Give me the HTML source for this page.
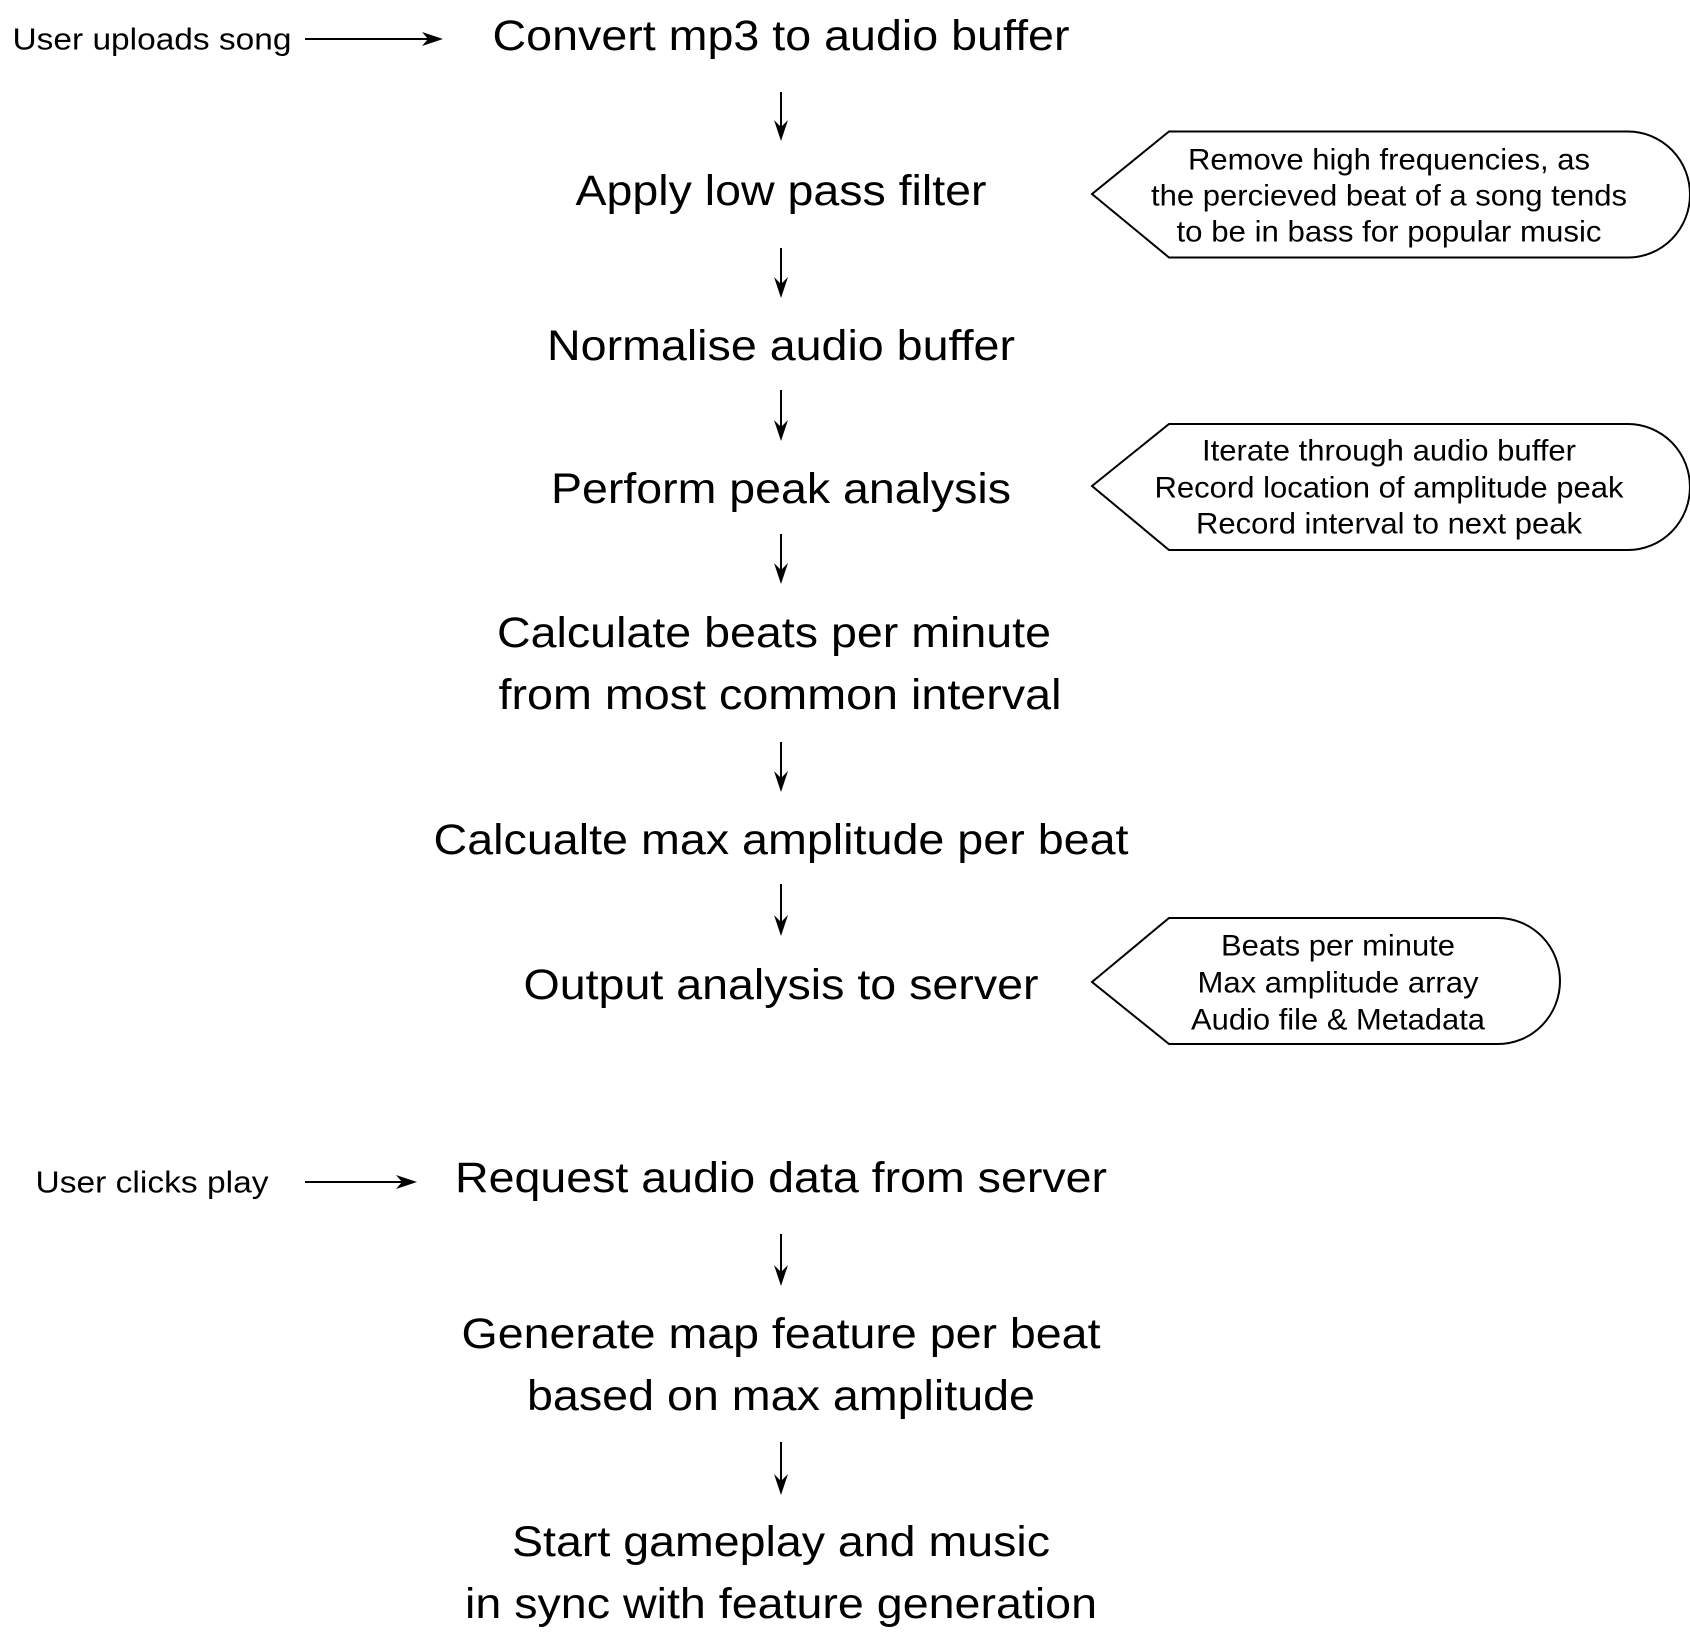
<!DOCTYPE html>
<html><head><meta charset="utf-8"><style>
html,body{margin:0;padding:0;background:#fff;}
svg{display:block;}
text{font-family:"Liberation Sans",Arial,sans-serif;fill:#000;}
.m{font-size:43px;text-anchor:middle;dominant-baseline:central;}
.s{font-size:29.5px;text-anchor:middle;dominant-baseline:central;}
.l{font-size:31px;text-anchor:middle;dominant-baseline:central;}
</style></head><body>
<svg width="1690" height="1636" viewBox="0 0 1690 1636" xmlns="http://www.w3.org/2000/svg">
<g stroke="#000" stroke-width="2" fill="none">
<line x1="781" y1="92" x2="781" y2="130"/>
<line x1="781" y1="248" x2="781" y2="287"/>
<line x1="781" y1="390" x2="781" y2="430"/>
<line x1="781" y1="534" x2="781" y2="573"/>
<line x1="781" y1="742" x2="781" y2="781"/>
<line x1="781" y1="884" x2="781" y2="925"/>
<line x1="781" y1="1234" x2="781" y2="1275"/>
<line x1="781" y1="1442" x2="781" y2="1484"/>
<line x1="305" y1="39" x2="432" y2="39"/>
<line x1="305" y1="1182" x2="406" y2="1182"/>
<path d="M1092,194 L1169,131.5 L1628,131.5 A62,63 0 0 1 1628,257.5 L1169,257.5 Z"/>
<path d="M1092,486 L1169,424 L1628,424 A62,63 0 0 1 1628,550 L1169,550 Z"/>
<path d="M1092,982 L1169,918 L1498,918 A62,63 0 0 1 1498,1044 L1169,1044 Z"/>
</g>
<g fill="#000">
<path d="M774,120 L781,141 L788,120 L781,127 Z"/>
<path d="M774,277 L781,298 L788,277 L781,284 Z"/>
<path d="M774,420 L781,441 L788,420 L781,427 Z"/>
<path d="M774,563 L781,584 L788,563 L781,570 Z"/>
<path d="M774,771 L781,792 L788,771 L781,778 Z"/>
<path d="M774,915 L781,936 L788,915 L781,922 Z"/>
<path d="M774,1265 L781,1286 L788,1265 L781,1272 Z"/>
<path d="M774,1474 L781,1495 L788,1474 L781,1481 Z"/>
<path d="M422,32 L443,39 L422,46 L428,39 Z"/>
<path d="M396,1175 L417,1182 L396,1189 L402,1182 Z"/>
</g>
<text class="l" x="152" y="39" textLength="279" lengthAdjust="spacingAndGlyphs">User uploads song</text>
<text class="l" x="152" y="1182" textLength="233" lengthAdjust="spacingAndGlyphs">User clicks play</text>
<text class="m" x="781" y="36" textLength="577" lengthAdjust="spacingAndGlyphs">Convert mp3 to audio buffer</text>
<text class="m" x="781" y="191" textLength="411" lengthAdjust="spacingAndGlyphs">Apply low pass filter</text>
<text class="m" x="781" y="346" textLength="468" lengthAdjust="spacingAndGlyphs">Normalise audio buffer</text>
<text class="m" x="781" y="489" textLength="460" lengthAdjust="spacingAndGlyphs">Perform peak analysis</text>
<text class="m" x="774" y="633" textLength="554" lengthAdjust="spacingAndGlyphs">Calculate beats per minute</text>
<text class="m" x="780" y="695" textLength="563" lengthAdjust="spacingAndGlyphs">from most common interval</text>
<text class="m" x="781" y="840" textLength="695" lengthAdjust="spacingAndGlyphs">Calcualte max amplitude per beat</text>
<text class="m" x="781" y="985" textLength="515" lengthAdjust="spacingAndGlyphs">Output analysis to server</text>
<text class="m" x="781" y="1178" textLength="652" lengthAdjust="spacingAndGlyphs">Request audio data from server</text>
<text class="m" x="781" y="1334" textLength="639" lengthAdjust="spacingAndGlyphs">Generate map feature per beat</text>
<text class="m" x="781" y="1396" textLength="508" lengthAdjust="spacingAndGlyphs">based on max amplitude</text>
<text class="m" x="781" y="1542" textLength="538" lengthAdjust="spacingAndGlyphs">Start gameplay and music</text>
<text class="m" x="781" y="1604" textLength="632" lengthAdjust="spacingAndGlyphs">in sync with feature generation</text>
<text class="s" x="1389" y="160" textLength="402" lengthAdjust="spacingAndGlyphs">Remove high frequencies, as</text>
<text class="s" x="1389" y="196" textLength="476" lengthAdjust="spacingAndGlyphs">the percieved beat of a song tends</text>
<text class="s" x="1389" y="232" textLength="425" lengthAdjust="spacingAndGlyphs">to be in bass for popular music</text>
<text class="s" x="1389" y="451" textLength="374" lengthAdjust="spacingAndGlyphs">Iterate through audio buffer</text>
<text class="s" x="1389" y="488" textLength="469" lengthAdjust="spacingAndGlyphs">Record location of amplitude peak</text>
<text class="s" x="1389" y="524" textLength="386" lengthAdjust="spacingAndGlyphs">Record interval to next peak</text>
<text class="s" x="1338" y="946" textLength="234" lengthAdjust="spacingAndGlyphs">Beats per minute</text>
<text class="s" x="1338" y="983" textLength="281" lengthAdjust="spacingAndGlyphs">Max amplitude array</text>
<text class="s" x="1338" y="1020" textLength="294" lengthAdjust="spacingAndGlyphs">Audio file &amp; Metadata</text>
</svg>
</body></html>
